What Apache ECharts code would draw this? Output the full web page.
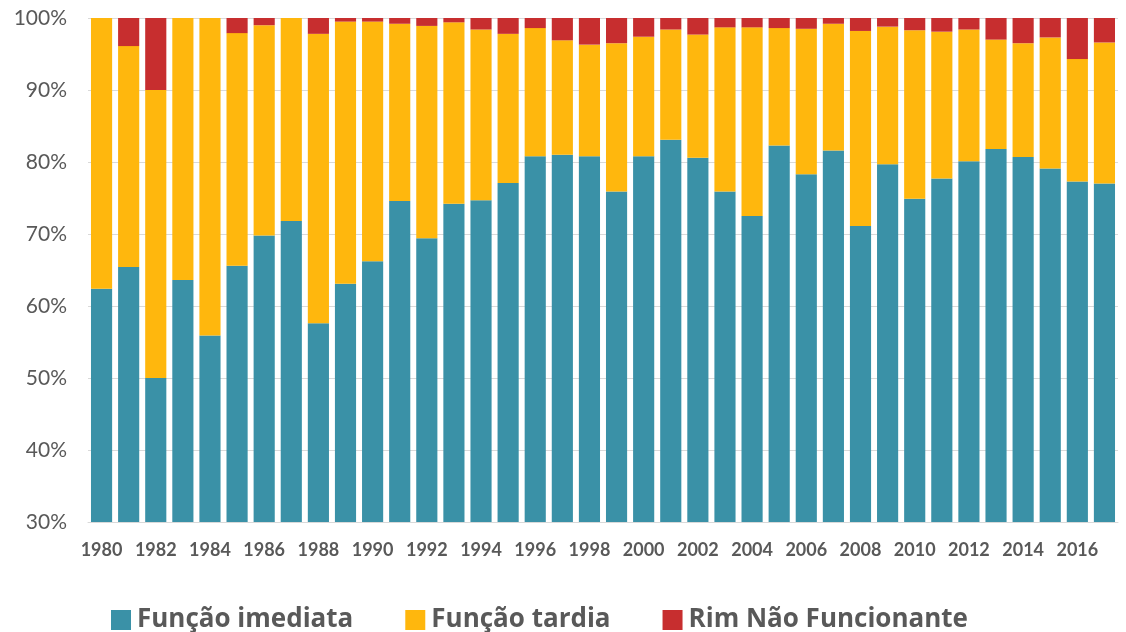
<!DOCTYPE html>
<html>
<head>
<meta charset="utf-8">
<script src="https://cdn.jsdelivr.net/npm/echarts@6/dist/echarts.min.js"></script>
<style>
  html, body { margin: 0; padding: 0; background: #ffffff; }
  #chart { width: 1126px; height: 632px; }
</style>
</head>
<body>
<div id="chart"></div>
<script>
// Years of transplant
const years = [
  '1980','1981','1982','1983','1984','1985','1986','1987','1988','1989',
  '1990','1991','1992','1993','1994','1995','1996','1997','1998','1999',
  '2000','2001','2002','2003','2004','2005','2006','2007','2008','2009',
  '2010','2011','2012','2013','2014','2015','2016','2017'
];

// Share of grafts (%) by outcome
const funcaoImediata = [
  62.4, 65.4, 50.0, 63.6, 55.9, 65.6, 69.8, 71.8, 57.6, 63.1,
  66.2, 74.6, 69.4, 74.2, 74.7, 77.1, 80.8, 81.0, 80.8, 75.9,
  80.8, 83.1, 80.6, 75.9, 72.5, 82.3, 78.3, 81.6, 71.1, 79.7,
  74.9, 77.7, 80.1, 81.8, 80.7, 79.1, 77.3, 77.0
];
const funcaoTardia = [
  37.6, 30.7, 40.0, 36.4, 44.1, 32.3, 29.2, 28.2, 40.2, 36.4,
  33.3, 24.6, 29.5, 25.2, 23.7, 20.7, 17.8, 15.9, 15.5, 20.6,
  16.6, 15.3, 17.1, 22.8, 26.2, 16.3, 20.2, 17.6, 27.1, 19.1,
  23.4, 20.4, 18.3, 15.2, 15.8, 18.2, 17.0, 19.6
];
const rimNaoFuncionante = [
  0.0, 3.9, 10.0, 0.0, 0.0, 2.1, 1.0, 0.0, 2.2, 0.5,
  0.5, 0.8, 1.1, 0.6, 1.6, 2.2, 1.4, 3.1, 3.7, 3.5,
  2.6, 1.6, 2.3, 1.3, 1.3, 1.4, 1.5, 0.8, 1.8, 1.2,
  1.7, 1.9, 1.6, 3.0, 3.5, 2.7, 5.7, 3.4
];

// Y axis range and step (%)
const yMin = 30, yMax = 100, yStep = 10;

const seriesDefs = [
  { name: 'Função imediata', data: funcaoImediata, color: '#3A91A7' },
  { name: 'Função tardia', data: funcaoTardia, color: '#FFB70D' },
  { name: 'Rim Não Funcionante', data: rimNaoFuncionante, color: '#C72E2F' }
];

const chart = echarts.init(document.getElementById('chart'), null, { renderer: 'canvas' });

chart.setOption({
  animation: false,
  backgroundColor: '#ffffff',
  textStyle: { fontFamily: 'Lato, "Open Sans", sans-serif' },
  grid: { left: 88, right: 8, top: 18, bottom: 110, containLabel: false },
  legend: {
    left: 106,
    top: 602,
    itemWidth: 20,
    itemHeight: 20,
    itemGap: 52,
    icon: 'rect',
    textStyle: {
      fontFamily: '"Open Sans", Lato, sans-serif',
      fontSize: 26,
      fontWeight: 'bold',
      color: '#595959',
      padding: [0, 0, 0, 1]
    },
    data: seriesDefs.map(s => s.name)
  },
  xAxis: {
    type: 'category',
    data: years,
    axisTick: { show: false },
    axisLine: { lineStyle: { color: '#D9D9D9', width: 1 } },
    axisLabel: {
      interval: 1,
      margin: 19,
      fontSize: 18,
      fontWeight: 'bold',
      color: '#595959'
    }
  },
  yAxis: {
    type: 'value',
    min: yMin,
    max: yMax,
    interval: yStep,
    axisLine: { show: false },
    axisTick: { show: false },
    splitLine: { lineStyle: { color: '#D9D9D9', width: 1 } },
    axisLabel: {
      formatter: '{value}%',
      fontSize: 21,
      color: '#595959',
      margin: 21
    }
  },
  series: seriesDefs.map(s => ({
    name: s.name,
    type: 'bar',
    stack: 'total',
    data: s.data,
    barCategoryGap: '22%',
    itemStyle: { color: s.color },
    emphasis: { disabled: true }
  }))
});
</script>
</body>
</html>
